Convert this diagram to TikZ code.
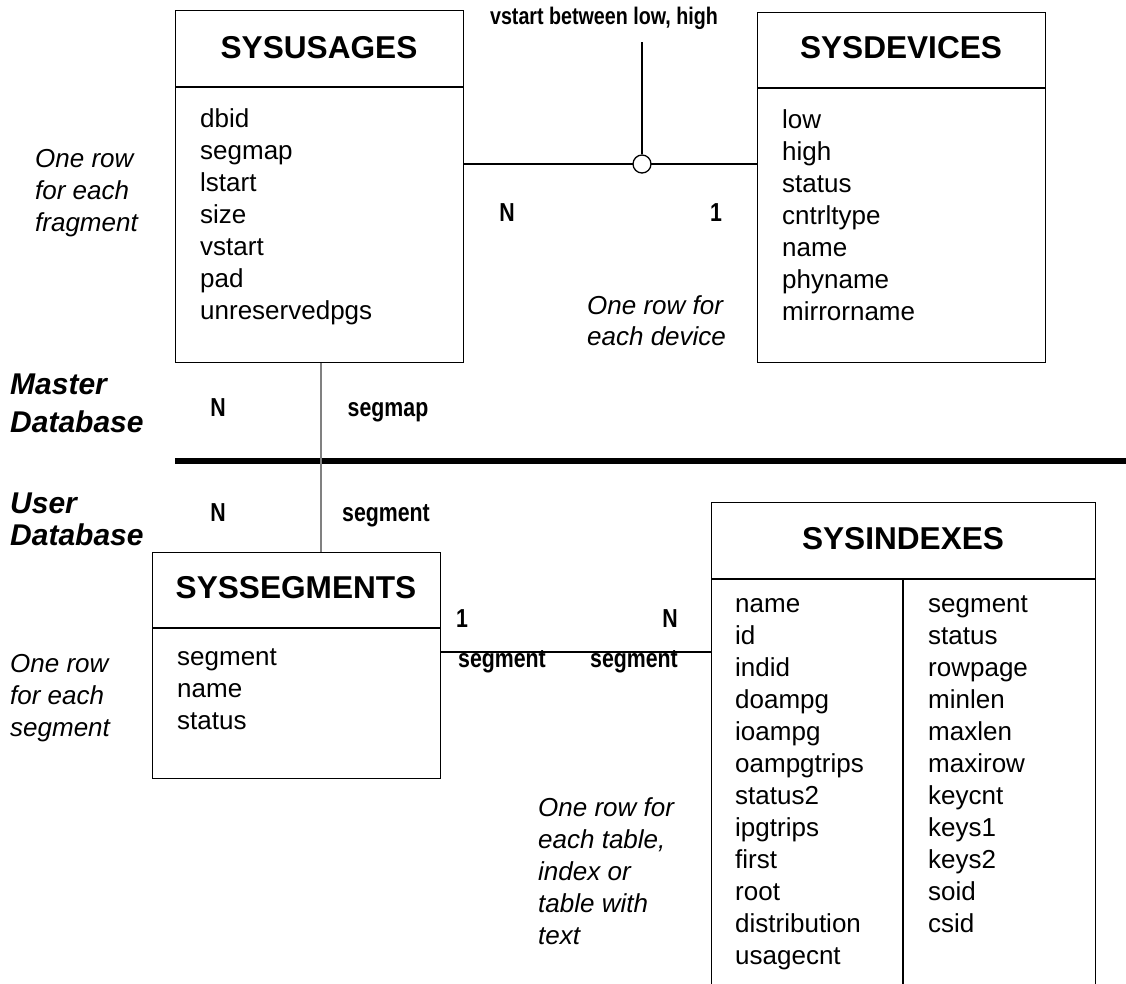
\documentclass[tikz,border=0pt]{standalone}
\usepackage{fontspec}
\setmainfont{Liberation Sans}
\newfontfamily\narrowbold{Liberation Sans}[FakeStretch=0.82]
% one line of text per node, stacked at a fixed baseline step
\newcommand{\stackrows}[6]{%
  \foreach \t [count=\i from 0] in {#6}
    \node[#5, anchor=base west] (#1-\i) at (#2,{#3+#4*\i}) {\t};}
\begin{document}
\begin{tikzpicture}[x=1pt,y=-1pt,
  tablebox/.style={draw, line width=1.3pt, rectangle, inner sep=0pt, anchor=north west},
  title/.style={font=\bfseries\fontsize{31.6}{38}\selectfont, inner sep=0pt, anchor=base},
  field/.style={font=\fontsize{26}{32}\selectfont, inner sep=0pt},
  note/.style={font=\itshape\fontsize{26}{32}\selectfont, inner sep=0pt},
  tag/.style={font=\narrowbold\bfseries\fontsize{26}{32}\selectfont, inner sep=0pt, anchor=base},
  region/.style={font=\bfseries\itshape\fontsize{30}{36}\selectfont, inner sep=0pt, anchor=base west},
  link/.style={line width=1.3pt},
]
\useasboundingbox (0,0) rectangle (1126,983);
\clip (0,0) rectangle (1126,983);

% ---------- master database tables ----------
\node[tablebox, minimum width=288pt, minimum height=352pt] (usages) at (175,10) {};
\draw[link] (usages.west |- 0,87) -- (usages.east |- 0,87);
\node[title] (usages-t) at (319,58) {SYSUSAGES};
\stackrows{us}{200}{127}{32}{field}{dbid,segmap,lstart,size,vstart,pad,unreservedpgs}

\node[tablebox, minimum width=288pt, minimum height=350pt] (devices) at (757,12) {};
\draw[link] (devices.west |- 0,88) -- (devices.east |- 0,88);
\node[title] (devices-t) at (901,58) {SYSDEVICES};
\stackrows{dv}{782}{128}{32}{field}{low,high,status,cntrltype,name,phyname,mirrorname}

% usages -- devices, joined through the range test
\coordinate (j) at (642,164);
\draw[link] (usages.east |- j) -- (devices.west |- j);
\node[draw, circle, fill=white, line width=1.3pt, minimum size=18pt, inner sep=0pt] (join) at (j) {};
\coordinate (jtop) at (642,42);
\draw[link] (jtop) -- (join.north);
\node[tag, font=\narrowbold\bfseries\fontsize{24}{30}\selectfont] (cond) at (604,24) {vstart between low, high};
\node[tag] (c1) at (507,221) {N};
\node[tag] (c2) at (716,221) {1};

\stackrows{nf}{35}{167}{32}{note}{One row,for each,fragment}
\stackrows{nd}{587}{314}{31}{note}{One row for,each device}

% ---------- database boundary ----------
\node[region] (m1) at (10,394) {Master};
\node[region] (m2) at (10,432) {Database};
\node[region] (u1) at (10,513) {User};
\node[region] (u2) at (10,545) {Database};
\coordinate (sepL) at (175,461);
\coordinate (sepR) at (1130,461);
\draw[line width=6pt] (sepL) -- (sepR);

% ---------- user database tables ----------
\node[tablebox, minimum width=288pt, minimum height=226pt] (segments) at (152,552) {};
\draw[link] (segments.west |- 0,628) -- (segments.east |- 0,628);
\node[title] (segments-t) at (296,598) {SYSSEGMENTS};
\stackrows{sg}{177}{665}{32}{field}{segment,name,status}
\stackrows{ns}{10}{672}{32}{note}{One row,for each,segment}

% usages -- segments
\draw[line width=1.5pt, gray] (usages.south -| 321,0) -- (segments.north -| 321,0);
\node[tag] (s1) at (218,416) {N};
\node[tag] (s2) at (388,416) {segmap};
\node[tag] (s3) at (218,521) {N};
\node[tag] (s4) at (386,521) {segment};

\node[tablebox, minimum width=384pt, minimum height=500pt] (indexes) at (711,502) {};
\draw[link] (indexes.west |- 0,579) -- (indexes.east |- 0,579);
\coordinate (colT) at (903,579);
\coordinate (colB) at (903,1010);
\draw[link] (colT) -- (colB);
\node[title] (indexes-t) at (903,549) {SYSINDEXES};
\stackrows{ixa}{735}{612}{32}{field}{name,id,indid,doampg,ioampg,oampgtrips,status2,ipgtrips,first,root,distribution,usagecnt}
\stackrows{ixb}{928}{612}{32}{field}{segment,status,rowpage,minlen,maxlen,maxirow,keycnt,keys1,keys2,soid,csid}

% segments -- indexes
\coordinate (k) at (0,652);
\draw[link] (segments.east |- k) -- (indexes.west |- k);
\node[tag] (k1) at (462,627) {1};
\node[tag] (k2) at (670,627) {N};
\node[tag] (k3) at (502,667) {segment};
\node[tag] (k4) at (634,667) {segment};

\stackrows{nt}{538}{816}{32}{note}{One row for,{each table,},index or,table with,text}
\end{tikzpicture}
\end{document}
